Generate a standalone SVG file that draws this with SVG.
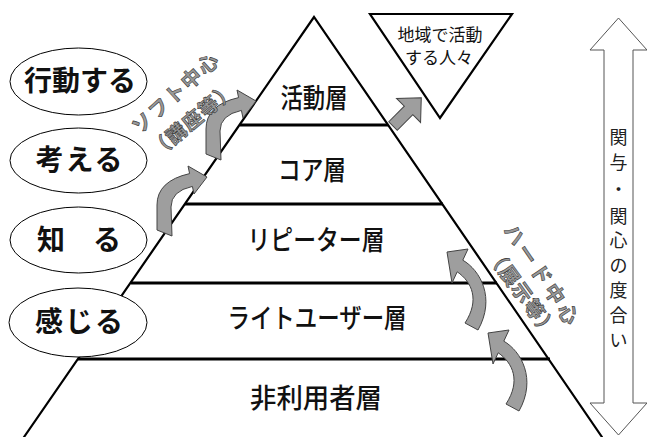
<svg xmlns="http://www.w3.org/2000/svg" width="647" height="437" viewBox="0 0 647 437">
  <style>
    .jp { font-family: "Noto Sans CJK JP", "Noto Sans", sans-serif; }
    .oval { fill: #fff; stroke: #000; stroke-width: 1; }
    .ovtxt { font-size: 28px; font-weight: bold; fill: #111; text-anchor: middle; }
    .layer { font-size: 27px; fill: #111; text-anchor: middle; font-weight: 500; }
    .edge { stroke: #000; stroke-width: 2.2; fill: none; stroke-linecap: round; }
    .hline { stroke: #000; stroke-width: 2.8; fill: none; }
    .garrow { fill: #9e9e9e; stroke: #444; stroke-width: 1; stroke-linejoin: miter; }
    .wart { font-size: 20px; font-weight: bold; fill: #9a9a9a; stroke: #333; stroke-width: 0.6; text-anchor: middle; }
    .vt { font-size: 18px; fill: #222; text-anchor: middle; }
  </style>
  <defs>
    <path id="curveL" d="M157,230 L157,205 Q157,181 189.6,173.6 L188,166 L207,177 L194,194 L192.4,186.4 Q171,191 171,207 L172,236 Z"/>
    <path id="curveR" d="M447,252 L468,249 L462.8,260.2 C480,270 496,298 478,330 L465,323 C480,300 472,282 457.2,271.8 L452,283 Z"/>
  </defs>
  <rect width="647" height="437" fill="#fff"/>

  <g id="pyramid">
    <path class="edge" d="M24,437 L314,17 L602,437"/>
    <line class="hline" x1="240" y1="125" x2="388" y2="125"/>
    <line class="hline" x1="185" y1="204" x2="443" y2="204"/>
    <line class="hline" x1="131" y1="283" x2="497" y2="283"/>
    <line class="hline" x1="78" y1="359" x2="550" y2="359"/>
  </g>

  <g id="layer-katsudo"><text class="jp layer" x="314" y="108" textLength="67" lengthAdjust="spacingAndGlyphs">活動層</text></g>
  <g id="layer-core"><text class="jp layer" x="312" y="180" textLength="68" lengthAdjust="spacingAndGlyphs">コア層</text></g>
  <g id="layer-repeater"><text class="jp layer" x="316" y="250" textLength="137" lengthAdjust="spacingAndGlyphs">リピーター層</text></g>
  <g id="layer-light"><text class="jp layer" x="317" y="328" textLength="179" lengthAdjust="spacingAndGlyphs">ライトユーザー層</text></g>
  <g id="layer-non"><text class="jp layer" x="316" y="408" textLength="132" lengthAdjust="spacingAndGlyphs">非利用者層</text></g>

  <g id="oval-kodo">
    <ellipse class="oval" cx="78.5" cy="81.5" rx="68.5" ry="33.5"/>
    <text class="jp ovtxt" x="80" y="91" font-size="27">行動する</text>
  </g>
  <g id="oval-kangaeru">
    <ellipse class="oval" cx="78.5" cy="160.5" rx="68.5" ry="32.5"/>
    <text class="jp ovtxt" x="80" y="170" letter-spacing="2">考える</text>
  </g>
  <g id="oval-shiru">
    <ellipse class="oval" cx="78.5" cy="240" rx="68.5" ry="33"/>
    <text class="jp ovtxt" x="79" y="250">知　る</text>
  </g>
  <g id="oval-kanjiru">
    <ellipse class="oval" cx="78" cy="322.5" rx="69" ry="34.5"/>
    <text class="jp ovtxt" x="80" y="332" letter-spacing="2">感じる</text>
  </g>

  <g id="active-people">
    <path d="M370,14 L512,14 L440,118 Z" fill="#fff" stroke="#000" stroke-width="2.2" stroke-linejoin="miter"/>
    <text class="jp" x="440" y="41" font-size="17" text-anchor="middle" fill="#111">地域で活動</text>
    <text class="jp" x="439" y="64" font-size="17" text-anchor="middle" fill="#111">する人々</text>
  </g>

  <g id="involvement">
    <path d="M618.5,18 L647,50 L633,50 L633,403 L647,403 L618.5,435 L590,403 L604,403 L604,50 L590,50 Z" fill="#fff" stroke="#555" stroke-width="1"/>
    <text class="jp vt" x="618.5" y="144">関</text>
    <text class="jp vt" x="618.5" y="169">与</text>
    <text class="jp vt" x="618.5" y="196">・</text>
    <text class="jp vt" x="618.5" y="223">関</text>
    <text class="jp vt" x="618.5" y="247">心</text>
    <text class="jp vt" x="618.5" y="272">の</text>
    <text class="jp vt" x="618.5" y="297">度</text>
    <text class="jp vt" x="618.5" y="322">合</text>
    <text class="jp vt" x="618.5" y="347">い</text>
  </g>

  <g id="connectors">
    <use href="#curveL" class="garrow"/>
    <use href="#curveL" class="garrow" transform="translate(49,-76)"/>
    <use href="#curveR" class="garrow"/>
    <use href="#curveR" class="garrow" transform="translate(41,81)"/>
    <path class="garrow" transform="translate(393,126) rotate(-45)" d="M0,-6 L22,-6 L22,-17 L40,0 L22,17 L22,6 L0,6 Z"/>
  </g>

  <g id="soft-label">
    <text class="jp wart" transform="translate(176,93) rotate(-42)" y="7" letter-spacing="2">ソフト中心</text>
    <text class="jp wart" transform="translate(193,120) rotate(-40)" y="7" letter-spacing="1">（講座等）</text>
  </g>
  <g id="hard-label">
    <text class="jp wart" transform="translate(542,276) rotate(56)" y="7" letter-spacing="4">ハード中心</text>
    <text class="jp wart" transform="translate(522,293) rotate(54)" y="7" letter-spacing="1">（展示等）</text>
  </g>
</svg>
